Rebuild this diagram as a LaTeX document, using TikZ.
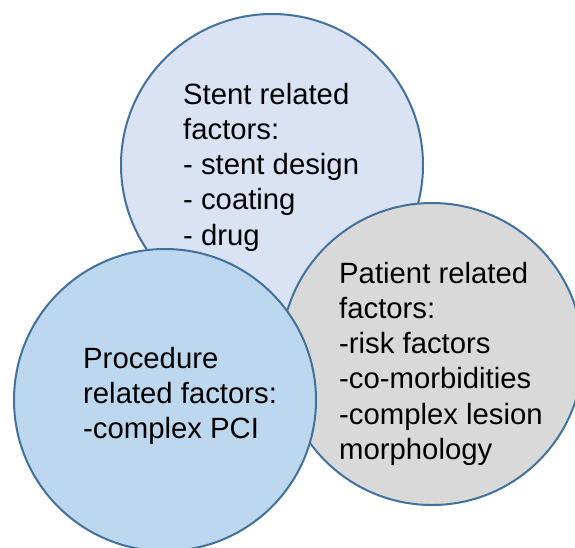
\documentclass[tikz,border=0pt]{standalone}
\usepackage{fontspec}
\setmainfont{Liberation Sans}
\definecolor{rim}{HTML}{41719C}
\definecolor{stentbg}{HTML}{DAE3F3}
\definecolor{procbg}{HTML}{BDD7EE}
\definecolor{patbg}{HTML}{D9D9D9}
\tikzset{c/.style={draw=rim,line width=2pt,circle,minimum size=302pt,inner sep=0pt},
 t/.style={align=left,inner sep=0pt,anchor=base west,font=\fontsize{29.3}{35.3}\selectfont}}

\begin{document}
\begin{tikzpicture}[x=1pt,y=-1pt]
\useasboundingbox(0,0)rectangle(575,547);\clip(0,0)rectangle(575,547);
% three overlapping circles, the last one drawn on top
\node[c,fill=stentbg](stent)at(272,165){};\node[c,fill=patbg](pat)at(432,354){};\node[c,fill=procbg](proc)at(165,400){};
% base west = baseline of the last line
\node[t](st)at(183,245.2){Stent related\\factors:\\- stent design\\- coating\\- drug};
\node[t](pt)at(339,459.5){Patient related\\factors:\\-risk factors\\-co-morbidities\\-complex lesion\\morphology};
\node[t](pr)at(83,438.6){Procedure\\related factors:\\-complex PCI};
\end{tikzpicture}
\end{document}
